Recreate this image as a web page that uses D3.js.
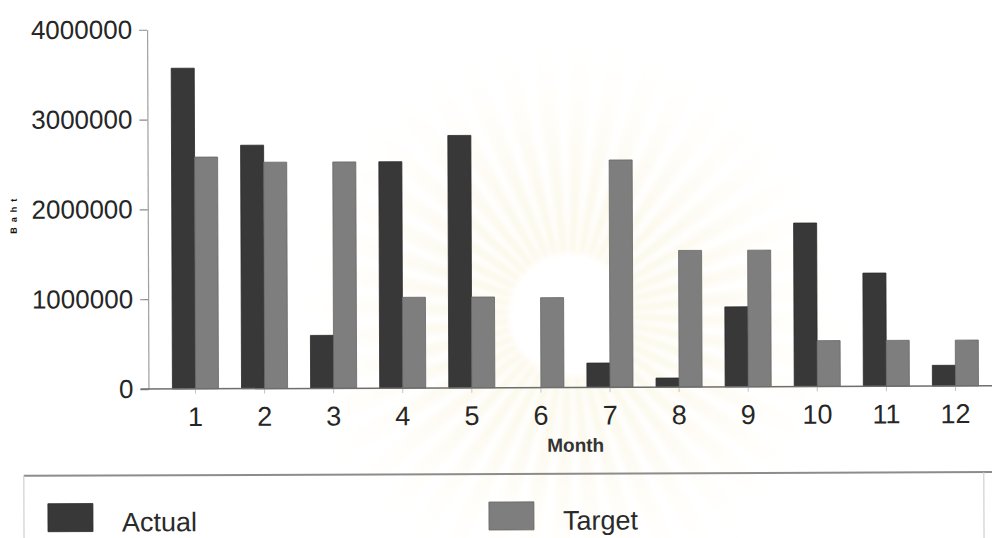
<!DOCTYPE html>
<html>
<head>
<meta charset="utf-8">
<script src="https://cdn.jsdelivr.net/npm/d3@7"></script>
<style>
  html, body { margin: 0; padding: 0; background: #fff; }
  svg { display: block; font-family: "Liberation Sans", Arial, Helvetica, sans-serif; }
</style>
</head>
<body>
<svg id="chart" width="992" height="538"></svg>
<script>
// Monthly sales, actual against target
const months = [1, 2, 3, 4, 5, 6, 7, 8, 9, 10, 11, 12];
const seriesNames = ["Actual", "Target"];
const actual = [3570000, 2710000, 590000, 2520000, 2810000, 0, 270000, 100000, 890000, 1820000, 1260000, 230000];
const target = [2580000, 2520000, 2520000, 1010000, 1010000, 1000000, 2530000, 1520000, 1520000, 510000, 510000, 510000];
const yTicks = [0, 1000000, 2000000, 3000000, 4000000];
const xTitle = "Month";
const yTitle = "Baht";

const svg = d3.select("#chart");
const defs = svg.append("defs");
const root = svg.append("g").attr("transform", "rotate(-0.22 496 269)");

// faint emblem behind the plot: pale, soft rays around an empty centre
const emX = 570, emY = 315;
const grad = defs.append("radialGradient")
  .attr("id", "emblemFade")
  .attr("gradientUnits", "userSpaceOnUse")
  .attr("cx", 0).attr("cy", 0).attr("r", 280);
grad.append("stop").attr("offset", "0.22").attr("stop-color", "#f0df9e").attr("stop-opacity", 0.26);
grad.append("stop").attr("offset", "0.6").attr("stop-color", "#f4e8bb").attr("stop-opacity", 0.16);
grad.append("stop").attr("offset", "1").attr("stop-color", "#fbf6e2").attr("stop-opacity", 0);
defs.append("filter").attr("id", "soft").attr("x", "-20%").attr("y", "-20%").attr("width", "140%").attr("height", "140%")
  .append("feGaussianBlur").attr("stdDeviation", 2.5);
const rayCount = 44;
const rays = d3.range(rayCount);
const rayArc = d3.arc().innerRadius(62).outerRadius(280);
root.append("g")
  .attr("transform", `translate(${emX},${emY})`)
  .attr("filter", "url(#soft)")
  .selectAll("path").data(rays).join("path")
  .attr("d", i => rayArc({
    startAngle: i * 2 * Math.PI / rayCount,
    endAngle: i * 2 * Math.PI / rayCount + 0.085
  }))
  .attr("fill", "url(#emblemFade)");

// scales
const x = d3.scaleBand().domain(months).range([148, 1002]).paddingInner(1 / 3).paddingOuter(0.347);
const xs = d3.scaleBand().domain(seriesNames).range([0, x.bandwidth()]);
const y = d3.scaleLinear().domain([0, 4000000]).range([387.7, 28.4]);
const color = d3.scaleOrdinal().domain(seriesNames).range(["#383838", "#7e7e7e"]);
const edge = d3.scaleOrdinal().domain(seriesNames).range(["#2a2a2a", "#666666"]);

const rows = months.map((m, i) => ({ month: m, values: [
  { key: "Actual", value: actual[i] },
  { key: "Target", value: target[i] }
]}));

// y axis
const yAxis = root.append("g")
  .attr("transform", "translate(148,0)")
  .call(d3.axisLeft(y).tickValues(yTicks).tickFormat(d3.format("d")).tickSize(8).tickSizeOuter(0).tickPadding(7));
yAxis.select(".domain").attr("stroke", "#a0a0a0").attr("stroke-width", 1.2);
yAxis.selectAll(".tick line").attr("stroke", "#8a8a8a").attr("stroke-width", 1.2);
yAxis.selectAll(".tick text").attr("font-size", 26).attr("fill", "#262626").attr("font-family", null);

// bars
const groups = root.append("g").selectAll("g").data(rows).join("g")
  .attr("transform", d => `translate(${x(d.month)},0)`);
groups.selectAll("rect").data(d => d.values.filter(v => v.value > 0)).join("rect")
  .attr("x", d => xs(d.key))
  .attr("width", xs.bandwidth())
  .attr("y", d => y(d.value))
  .attr("height", d => y(0) - y(d.value))
  .attr("fill", d => color(d.key))
  .attr("stroke", d => edge(d.key))
  .attr("stroke-width", 0.8);

// x axis
const xAxis = root.append("g")
  .attr("transform", `translate(0,${y(0)})`)
  .call(d3.axisBottom(x).tickSize(5).tickSizeOuter(0).tickPadding(13));
xAxis.select(".domain").remove();
xAxis.selectAll(".tick line").attr("stroke", "#c4c4c4");
xAxis.selectAll(".tick text").attr("font-size", 27).attr("fill", "#262626").attr("font-family", null);

// baseline
root.append("line")
  .attr("x1", 140).attr("x2", 995)
  .attr("y1", y(0)).attr("y2", y(0))
  .attr("stroke", "#6e6e6e").attr("stroke-width", 1.5);

// axis titles
root.append("text")
  .attr("x", (x.range()[0] + x.range()[1]) / 2).attr("y", 452)
  .attr("text-anchor", "middle")
  .attr("font-size", 19).attr("font-weight", "bold").attr("fill", "#333")
  .text(xTitle);
root.append("text")
  .attr("transform", "translate(17,212) rotate(-90)")
  .attr("text-anchor", "middle")
  .attr("font-size", 9).attr("font-weight", "bold").attr("letter-spacing", 5).attr("fill", "#111")
  .text(yTitle);

// legend box
const legend = root.append("g");
legend.append("line").attr("x1", 23).attr("x2", 995).attr("y1", 474).attr("y2", 474)
  .attr("stroke", "#8c8c8c").attr("stroke-width", 2);
legend.append("line").attr("x1", 23).attr("x2", 23).attr("y1", 474).attr("y2", 545)
  .attr("stroke", "#d0d0d0").attr("stroke-width", 1.2);
legend.append("line").attr("x1", 983).attr("x2", 983).attr("y1", 474).attr("y2", 545)
  .attr("stroke", "#d0d0d0").attr("stroke-width", 1.2);
const legendX = d3.scaleOrdinal().domain(seriesNames).range([47, 488]);
const items = legend.selectAll("g.item").data(seriesNames).join("g")
  .attr("class", "item")
  .attr("transform", d => `translate(${legendX(d)},502)`);
items.append("rect").attr("width", 45).attr("height", 28)
  .attr("fill", d => color(d)).attr("stroke", d => edge(d)).attr("stroke-width", 0.8);
items.append("text").attr("x", 74).attr("y", 28)
  .attr("font-size", 27).attr("fill", "#2a2a2a")
  .text(d => d);
</script>
</body>
</html>
